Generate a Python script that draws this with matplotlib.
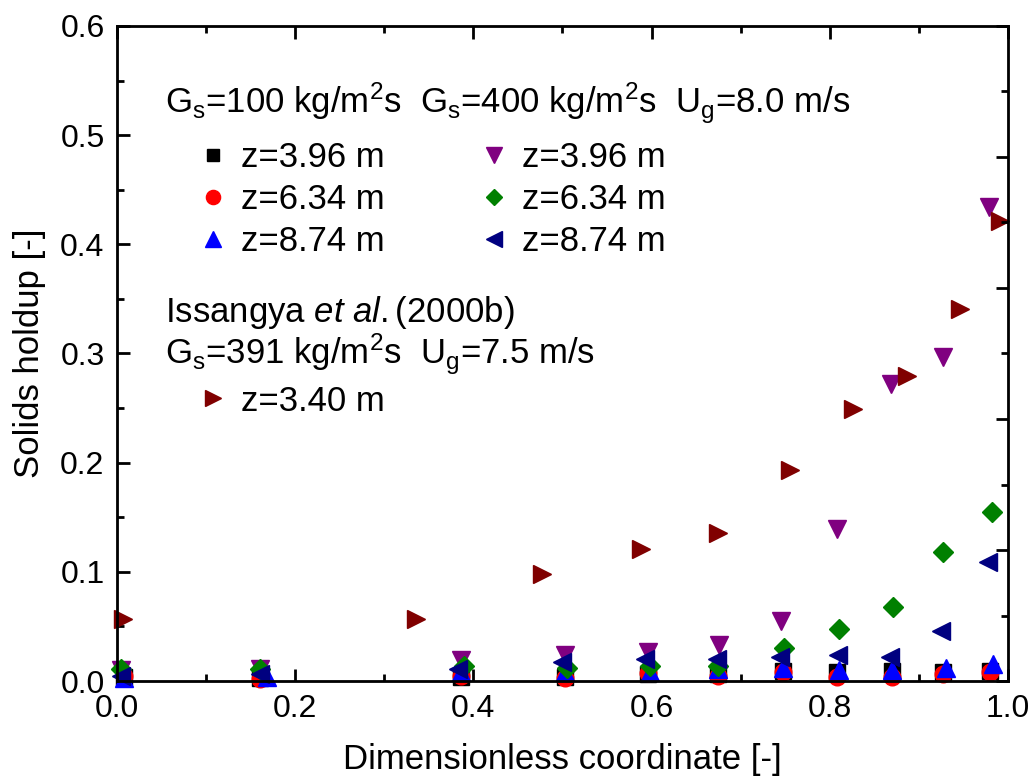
import matplotlib.pyplot as plt
from matplotlib.ticker import MultipleLocator

plt.rcParams["font.family"] = ["Liberation Sans", "DejaVu Sans"]
plt.rcParams["mathtext.fontset"] = "custom"
plt.rcParams["mathtext.rm"] = "Liberation Sans"
plt.rcParams["mathtext.it"] = "Liberation Sans:italic"

# Gs=100 kg/m2s
x_gs100 = [0.008, 0.160, 0.386, 0.503, 0.596, 0.675, 0.748, 0.808, 0.870, 0.927, 0.980]
y_z396_100 = [0.004, 0.003, 0.004, 0.004, 0.006, 0.006, 0.009, 0.008, 0.009, 0.008, 0.009]
y_z634_100 = [0.005, 0.002, 0.005, 0.003, 0.007, 0.005, 0.008, 0.004, 0.004, 0.006, 0.008]
x_z874_100 = [0.008, 0.168, 0.386, 0.503, 0.598, 0.675, 0.748, 0.810, 0.870, 0.931, 0.983]
y_z874_100 = [0.003, 0.004, 0.008, 0.008, 0.008, 0.011, 0.012, 0.010, 0.010, 0.012, 0.016]

# Gs=400 kg/m2s
x_z396_400 = [0.005, 0.160, 0.386, 0.503, 0.596, 0.676, 0.745, 0.808, 0.869, 0.927, 0.979]
y_z396_400 = [0.010, 0.011, 0.019, 0.024, 0.027, 0.033, 0.055, 0.139, 0.272, 0.297, 0.434]
x_z634_400 = [0.005, 0.160, 0.390, 0.505, 0.598, 0.675, 0.749, 0.810, 0.871, 0.927, 0.982]
y_z634_400 = [0.011, 0.011, 0.014, 0.012, 0.014, 0.014, 0.030, 0.048, 0.068, 0.118, 0.155]
x_z874_400 = [0.005, 0.160, 0.383, 0.500, 0.593, 0.673, 0.744, 0.809, 0.868, 0.925, 0.978]
y_z874_400 = [0.005, 0.006, 0.011, 0.017, 0.020, 0.020, 0.022, 0.024, 0.022, 0.046, 0.109]

# Issangya et al. (2000b), z=3.40 m
x_iss = [0.007, 0.336, 0.477, 0.588, 0.675, 0.755, 0.826, 0.887, 0.946, 0.991]
y_iss = [0.057, 0.057, 0.098, 0.121, 0.136, 0.193, 0.249, 0.279, 0.341, 0.421]

fig = plt.figure(figsize=(10.3, 7.8), dpi=100)
ax = fig.add_axes([0.1136, 0.1269, 0.865, 0.8398])

h1, = ax.plot(x_gs100, y_z396_100, "s", color="black", ms=11, ls="none", clip_on=False)
h2, = ax.plot(x_gs100, y_z634_100, "o", color="red", ms=12, ls="none", clip_on=False)
h3, = ax.plot(x_z874_100, y_z874_100, "^", color="blue", ms=13, ls="none", clip_on=False)
h4, = ax.plot(x_z396_400, y_z396_400, "v", color="purple", ms=13, ls="none", clip_on=False)
h5, = ax.plot(x_z634_400, y_z634_400, "D", color="green", ms=10, ls="none", clip_on=False)
h6, = ax.plot(x_z874_400, y_z874_400, "<", color="navy", ms=13, ls="none", clip_on=False)
h7, = ax.plot(x_iss, y_iss, ">", color="#800000", ms=13, ls="none", clip_on=False)

ax.set_xlim(0, 1.0)
ax.set_ylim(0, 0.6)
ax.xaxis.set_major_locator(MultipleLocator(0.2))
ax.xaxis.set_minor_locator(MultipleLocator(0.1))
ax.yaxis.set_major_locator(MultipleLocator(0.1))
ax.yaxis.set_minor_locator(MultipleLocator(0.05))
ax.xaxis.set_major_formatter(plt.FormatStrFormatter("%.1f"))
ax.yaxis.set_major_formatter(plt.FormatStrFormatter("%.1f"))
ax.tick_params(which="both", direction="in", width=2, labelsize=23, top=True, right=False)
ax.tick_params(which="major", length=9, pad=9)
ax.tick_params(which="minor", length=5)
for sp in ax.spines.values():
    sp.set_linewidth(2)

# right axis in the reference carries its own unlabelled ticks
axr = ax.twinx()
axr.set_ylim(0, 0.5)
axr.yaxis.set_major_locator(MultipleLocator(0.1))
axr.yaxis.set_minor_locator(MultipleLocator(0.05))
axr.tick_params(which="both", direction="in", width=2, labelright=False)
axr.tick_params(which="major", length=9)
axr.tick_params(which="minor", length=5)

ax.set_xlabel("Dimensionless coordinate [-]", fontsize=25, labelpad=14)
ax.set_ylabel("Solids holdup [-]", fontsize=25, labelpad=10)

fs = 25
ax.text(0.054, 0.882, r"G$_\mathrm{s}$=100 kg/m$^\mathrm{2}$s  G$_\mathrm{s}$=400 kg/m$^\mathrm{2}$s  U$_\mathrm{g}$=8.0 m/s",
        transform=ax.transAxes, fontsize=fs, va="center")
leg1 = ax.legend([h1, h2, h3, h4, h5, h6],
                 ["z=3.96 m", "z=6.34 m", "z=8.74 m", "z=3.96 m", "z=6.34 m", "z=8.74 m"],
                 ncol=2, frameon=False, fontsize=fs, loc="upper left",
                 bbox_to_anchor=(0.069, 0.851), handletextpad=0.3, columnspacing=2.65,
                 labelspacing=0.26, borderpad=0, handlelength=1.0, markerscale=0.85)
ax.add_artist(leg1)
ax.text(0.054, 0.563, r"Issangya $\mathit{et\ al.}$(2000b)", transform=ax.transAxes, fontsize=fs, va="center")
ax.text(0.054, 0.498, r"G$_\mathrm{s}$=391 kg/m$^\mathrm{2}$s  U$_\mathrm{g}$=7.5 m/s",
        transform=ax.transAxes, fontsize=fs, va="center")
ax.legend([h7], ["z=3.40 m"], frameon=False, fontsize=fs, loc="upper left",
          bbox_to_anchor=(0.069, 0.479), handletextpad=0.3, borderpad=0, handlelength=1.0,
          markerscale=0.85)

fig.savefig("out.png", dpi=100)
